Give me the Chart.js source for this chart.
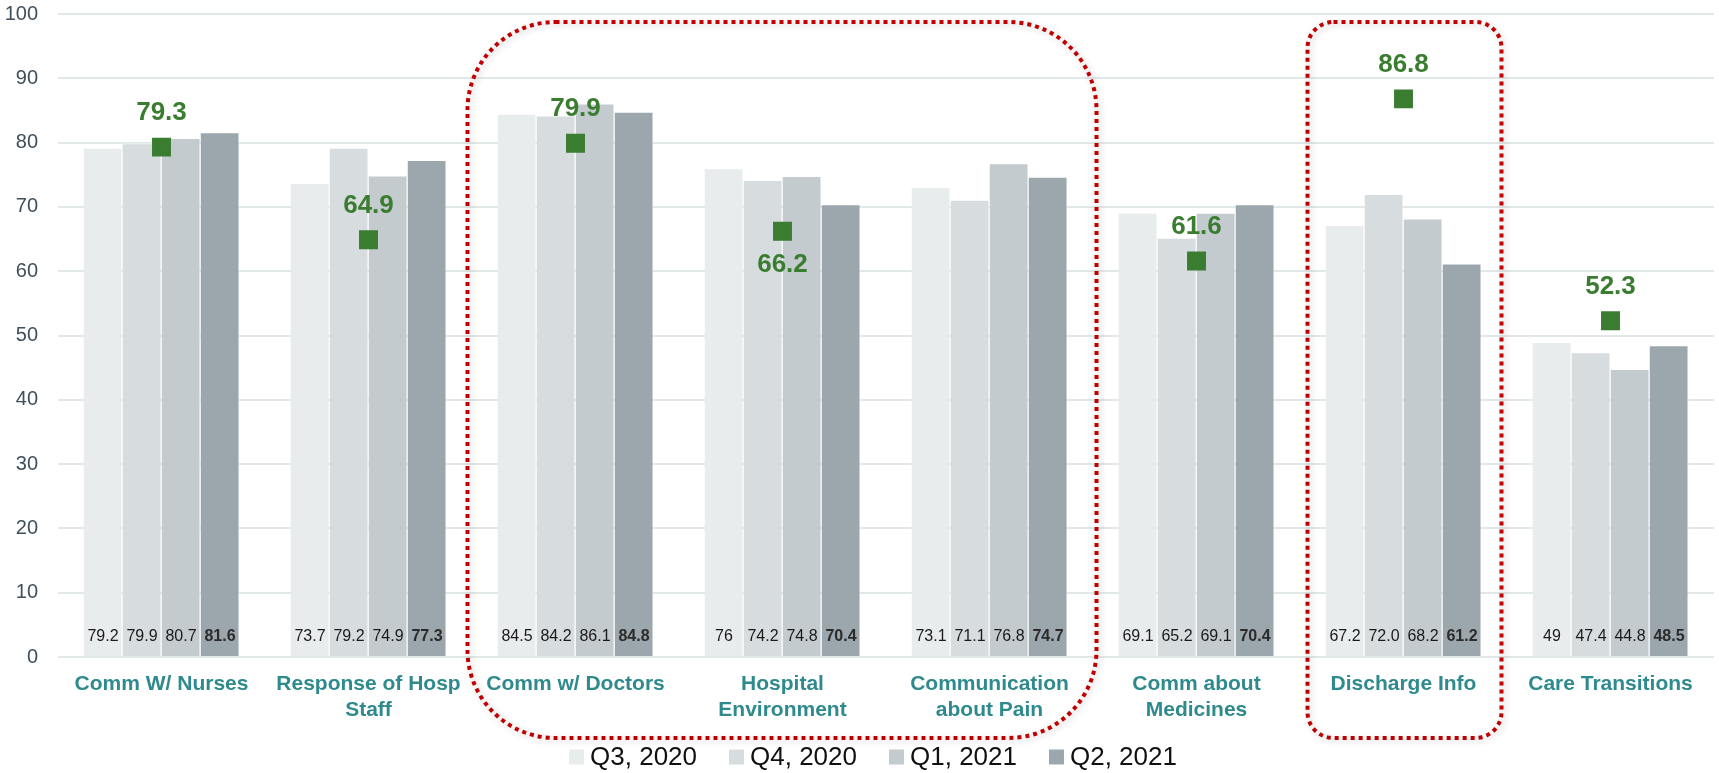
<!DOCTYPE html>
<html>
<head>
<meta charset="utf-8">
<script src="https://cdn.jsdelivr.net/npm/chart.js@4"></script>
<style>
  body { margin: 0; background: #fff; }
  #wrap { width: 1719px; height: 773px; }
</style>
</head>
<body>
<div id="wrap"><canvas id="myChart" width="1719" height="773"></canvas></div>
<script>
// categories shown on the x axis
const categories = [
  ['Comm W/ Nurses'],
  ['Response of Hosp', 'Staff'],
  ['Comm w/ Doctors'],
  ['Hospital', 'Environment'],
  ['Communication', 'about Pain'],
  ['Comm about', 'Medicines'],
  ['Discharge Info'],
  ['Care Transitions']
];

const seriesNames = ['Q3, 2020', 'Q4, 2020', 'Q1, 2021', 'Q2, 2021'];

// kept as text so the labels read like the picture ("76", "72.0")
const q3_2020 = ['79.2', '73.7', '84.5', '76', '73.1', '69.1', '67.2', '49'];
const q4_2020 = ['79.9', '79.2', '84.2', '74.2', '71.1', '65.2', '72.0', '47.4'];
const q1_2021 = ['80.7', '74.9', '86.1', '74.8', '76.8', '69.1', '68.2', '44.8'];
const q2_2021 = ['81.6', '77.3', '84.8', '70.4', '74.7', '70.4', '61.2', '48.5'];

// green markers
const benchmark = [79.3, 64.9, 79.9, 66.2, null, 61.6, 86.8, 52.3];

const yTicks = [0, 10, 20, 30, 40, 50, 60, 70, 80, 90, 100];

const barColors = ['#e9eced', '#d7dcdf', '#c4cbce', '#9ca7ad'];
const green = '#3a7d31';
const teal = '#2e8a8c';
const font = '"Liberation Sans", Arial, sans-serif';

// bar value labels + green labels
const labelPlugin = {
  id: 'labels',
  afterDatasetsDraw(chart) {
    const ctx = chart.ctx;
    const area = chart.chartArea;
    ctx.save();
    ctx.textAlign = 'center';
    ctx.textBaseline = 'middle';
    for (let d = 0; d < 4; d++) {
      const meta = chart.getDatasetMeta(d);
      ctx.font = (d === 3 ? 'bold ' : '') + '16px ' + font;
      ctx.fillStyle = d === 3 ? '#2b2b2b' : '#1a1a1a';
      meta.data.forEach((bar, i) => {
        ctx.fillText(chart.data.datasets[d].data[i], bar.x, area.bottom - 20);
      });
    }
    const labelBelow = [3];
    const lmeta = chart.getDatasetMeta(4);
    ctx.font = 'bold 26px ' + font;
    ctx.fillStyle = green;
    lmeta.data.forEach((pt, i) => {
      if (benchmark[i] == null) return;
      const dy = labelBelow.includes(i) ? 33 : -34;
      ctx.fillText(benchmark[i].toFixed(1), pt.x, pt.y + dy);
    });
    ctx.restore();
  }
};

// red dotted highlight boxes
function roundBox(ctx, x1, y1, x2, y2, r) {
  ctx.beginPath();
  ctx.moveTo(x1 + r, y1);
  ctx.lineTo(x2 - r, y1);
  ctx.arcTo(x2, y1, x2, y1 + r, r);
  ctx.lineTo(x2, y2 - r);
  ctx.arcTo(x2, y2, x2 - r, y2, r);
  ctx.lineTo(x1 + r, y2);
  ctx.arcTo(x1, y2, x1, y2 - r, r);
  ctx.lineTo(x1, y1 + r);
  ctx.arcTo(x1, y1, x1 + r, y1, r);
  ctx.closePath();
}

const boxPlugin = {
  id: 'boxes',
  afterDraw(chart) {
    const ctx = chart.ctx;
    const xs = chart.scales.x;
    const ys = chart.scales.y;
    const top = ys.getPixelForValue(100) + 8;
    const bottom = chart.chartArea.bottom + 81;
    ctx.save();
    ctx.strokeStyle = '#c00000';
    ctx.lineWidth = 4;
    ctx.setLineDash([4, 4]);
    ctx.shadowColor = 'rgba(0,0,0,0.22)';
    ctx.shadowBlur = 6;
    ctx.shadowOffsetX = 2;
    ctx.shadowOffsetY = 2;
    roundBox(ctx, xs.getPixelForValue(2) - 108, top, xs.getPixelForValue(4) + 107, bottom, 88);
    ctx.stroke();
    roundBox(ctx, xs.getPixelForValue(6) - 96, top, xs.getPixelForValue(6) + 98, bottom, 26);
    ctx.stroke();
    ctx.restore();
  }
};

// legend under the axis labels
const legendPlugin = {
  id: 'bottomLegend',
  afterDraw(chart) {
    const ctx = chart.ctx;
    const area = chart.chartArea;
    ctx.save();
    ctx.font = '26px ' + font;
    ctx.textBaseline = 'middle';
    const box = 15, gap = 6, spacing = 32;
    const widths = seriesNames.map(n => box + gap + ctx.measureText(n).width);
    const total = widths.reduce((a, b) => a + b, 0) + spacing * (widths.length - 1);
    let x = (area.left + area.right) / 2 - 13 - total / 2;
    const y = 758;
    seriesNames.forEach((n, i) => {
      ctx.fillStyle = barColors[i];
      ctx.fillRect(x, y - box / 2 - 1, box, box);
      ctx.fillStyle = '#111';
      ctx.fillText(n, x + box + gap, y);
      x += widths[i] + spacing;
    });
    ctx.restore();
  }
};

const barSeries = [q3_2020, q4_2020, q1_2021, q2_2021];

const datasets = barSeries.map((vals, i) => ({
  type: 'bar',
  label: seriesNames[i],
  data: vals,
  backgroundColor: barColors[i],
  borderColor: 'rgba(255,255,255,0.45)',
  borderWidth: { top: 1, left: 0, right: 1, bottom: 0 },
  barPercentage: 1,
  categoryPercentage: 0.754,
  order: 1
}));

datasets.push({
  type: 'line',
  label: 'Benchmark',
  data: benchmark,
  showLine: false,
  pointStyle: 'rect',
  pointRadius: 13.4,
  pointHoverRadius: 13.4,
  pointBackgroundColor: green,
  pointBorderWidth: 0,
  order: 0
});

let ctx = document.getElementById('myChart').getContext('2d');
let myChart = new Chart(ctx, {
  data: { labels: categories, datasets: datasets },
  options: {
    responsive: false,
    animation: false,
    events: [],
    layout: { autoPadding: false, padding: { top: 14, right: 5, left: 0, bottom: 0 } },
    plugins: {
      legend: { display: false },
      tooltip: { enabled: false }
    },
    scales: {
      x: {
        grid: { display: false },
        border: { display: false },
        ticks: {
          autoSkip: false,
          maxRotation: 0,
          padding: 7,
          color: teal,
          font: { family: font, size: 21, weight: 'bold', lineHeight: 1.2 }
        },
        afterFit(scale) { scale.height = 116; }
      },
      y: {
        min: 0,
        max: 100,
        afterBuildTicks(scale) { scale.ticks = yTicks.map(v => ({ value: v })); },
        grid: { color: '#e2e7e7', lineWidth: 2, drawTicks: false },
        border: { display: false },
        ticks: {
          padding: 20,
          color: '#3f4f5c',
          font: { family: font, size: 20 }
        },
        afterFit(scale) {
          scale.width = 58;
          // the tick padding would otherwise push the plot down
          scale.paddingTop = 12;
          scale.paddingBottom = 12;
        }
      }
    }
  },
  plugins: [labelPlugin, boxPlugin, legendPlugin]
});
</script>
</body>
</html>
